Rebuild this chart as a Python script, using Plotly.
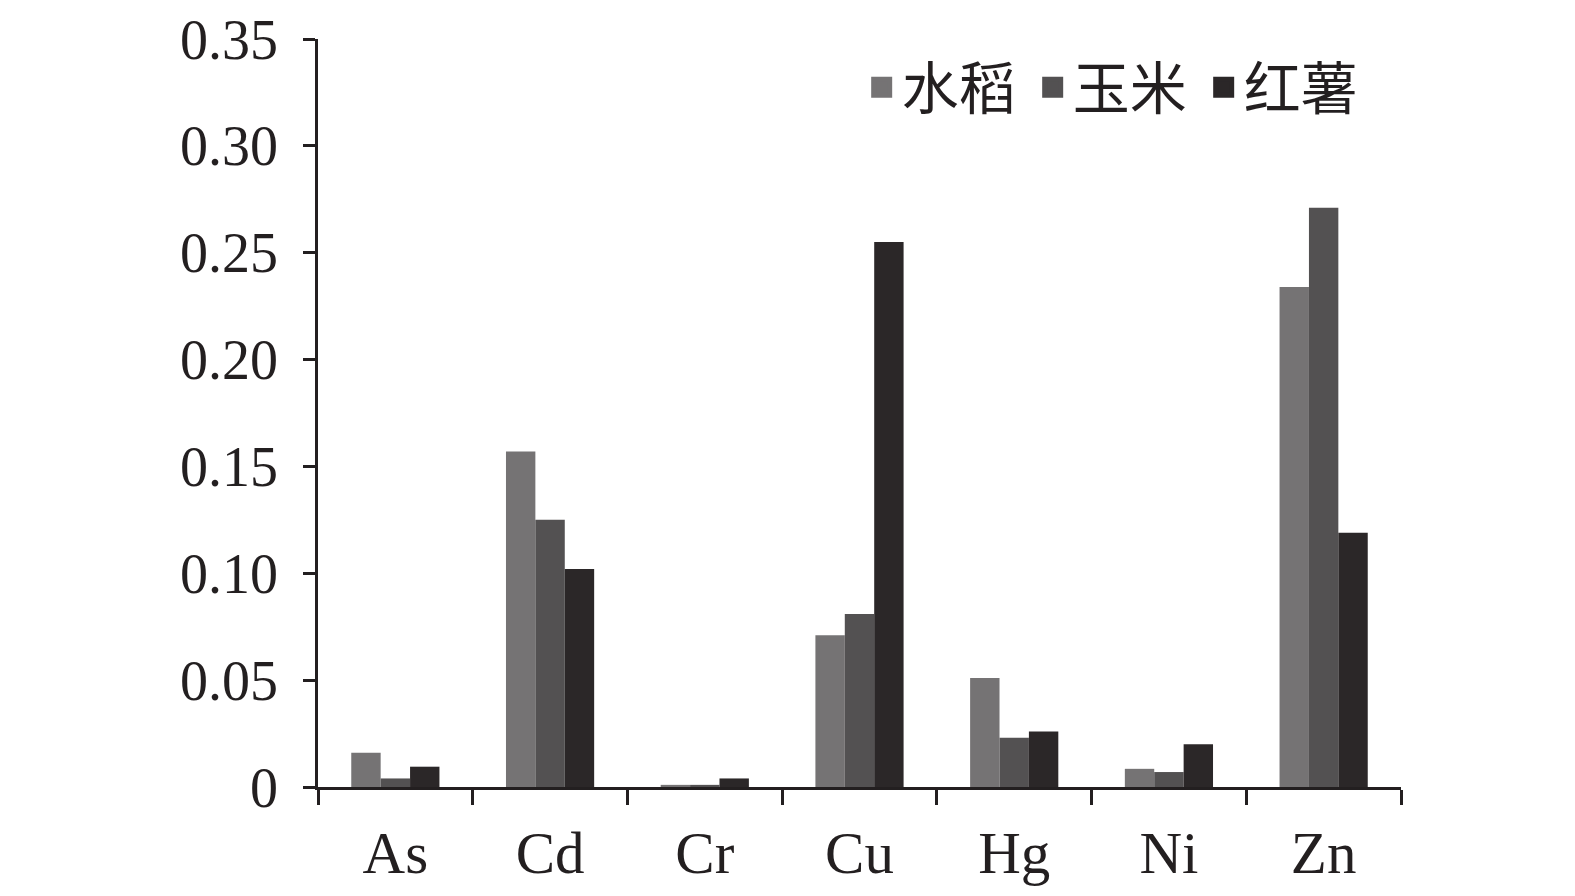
import plotly.graph_objects as go

categories = ["As", "Cd", "Cr", "Cu", "Hg", "Ni", "Zn"]
rice = [0.016, 0.157, 0.001, 0.071, 0.051, 0.0085, 0.234]
maize = [0.004, 0.125, 0.001, 0.081, 0.023, 0.007, 0.271]
sweet_potato = [0.0095, 0.102, 0.004, 0.255, 0.026, 0.020, 0.119]
series_names = ["水稻", "玉米", "红薯"]
colors = ["#757374", "#535152", "#2b2728"]
y_tickvals = [0, 0.05, 0.10, 0.15, 0.20, 0.25, 0.30, 0.35]
y_ticktext = ["0", "0.05", "0.10", "0.15", "0.20", "0.25", "0.30", "0.35"]

FONT = "Liberation Serif, Times New Roman, Noto Sans CJK SC, serif"
INK = "#231f20"

fig = go.Figure()
for name, vals, c in zip(series_names, [rice, maize, sweet_potato], colors):
    fig.add_trace(go.Bar(x=categories, y=vals, name=name, marker_color=c,
                         marker_line_width=0, showlegend=False))
    fig.add_trace(go.Scatter(x=[None], y=[None], mode="markers", name=name,
                             marker=dict(symbol="square", size=22, color=c,
                                         line=dict(width=5, color=c))))

fig.update_layout(
    width=1575, height=896,
    margin=dict(l=310, r=182, t=31, b=117, autoexpand=False),
    paper_bgcolor="white", plot_bgcolor="white",
    barmode="group", bargap=0.43, bargroupgap=0,
    font=dict(family=FONT, size=56, color=INK),
    legend=dict(orientation="h", x=0.9757, xanchor="right", y=0.935, yanchor="middle",
                font=dict(family="Noto Sans CJK SC, serif", size=57, color=INK),
                itemwidth=30, entrywidth=126, bgcolor="rgba(0,0,0,0)", tracegroupgap=0),
)
fig.update_xaxes(showline=True, linecolor=INK, linewidth=2.5, ticks="outside",
                 tickson="boundaries", ticklen=15, tickwidth=2.5, tickcolor=INK,
                 tickfont=dict(size=59),
                 showgrid=False, ticklabelstandoff=12, automargin=False)
fig.update_yaxes(range=[0, 0.35], showline=True, linecolor=INK, linewidth=2.5,
                 ticks="outside", ticklen=12, tickwidth=2.5, tickcolor=INK,
                 tickfont=dict(size=56),
                 tickvals=y_tickvals, ticktext=y_ticktext, showgrid=False,
                 zeroline=False, ticklabelstandoff=14, automargin=False)

fig.write_html("out.html")
